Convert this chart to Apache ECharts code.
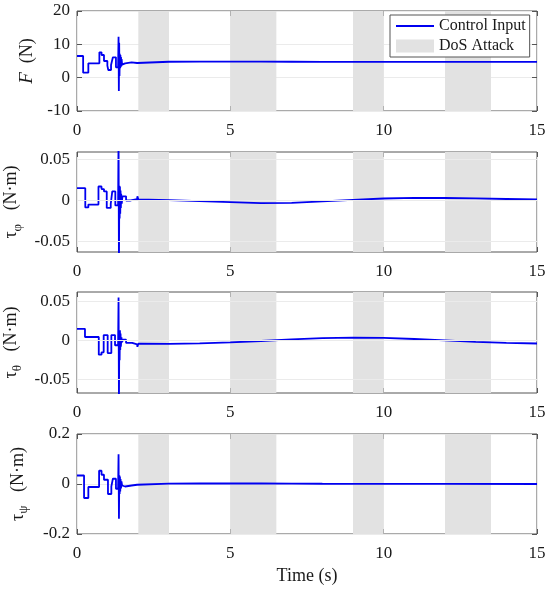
<!DOCTYPE html>
<html>
<head>
<meta charset="UTF-8">
<script src="https://cdn.jsdelivr.net/npm/echarts@6.0.0/dist/echarts.min.js"></script>
</head>
<body style="margin:0">
<div id="container" style="width:550px;height:590px;"></div>
<script>
// time ticks and DoS attack windows (s)
var timeTicks = [0, 5, 10, 15];
var dosStart = [2, 5, 9, 12];
var dosEnd = [3, 6.5, 10, 13.5];

// control input samples [t, value]
var forceData = [[0,6.5],[0.2,6.5],[0.2,1.5],[0.37,1.5],[0.37,4.3],[0.73,4.3],[0.73,7.6],[0.8,7.6],[0.8,6.8],[0.88,6.8],
  [0.88,5.0],[0.99,5.0],[0.99,3.6],[1.02,3.6],[1.02,2.3],[1.11,2.3],[1.11,3.8],[1.17,3.8],[1.17,6.1],[1.27,6.1],
  [1.27,3.1],[1.34,3.1],[1.355,12.3],[1.365,-4.0],[1.375,10.5],[1.385,0.5],[1.395,7.2],[1.405,2.8],[1.415,6.8],[1.425,3.1],
  [1.435,6.2],[1.445,3.4],[1.455,5.6],[1.47,3.9],[1.5,4.3],[1.57,4.3],[1.57,4.6],[1.78,4.6],[1.78,4.4],[1.96,4.4],
  [1.97,5.0],[2.0,4.8],[3,4.78],[4,4.8],[5,4.82],[6,4.8],[7,4.78],[8,4.76],[9,4.75],[10,4.74],[12,4.74],[15,4.74]];
var phiData = [[0,0.015],[0.27,0.015],[0.27,-0.0085],[0.37,-0.0085],[0.37,-0.005],[0.7,-0.005],[0.7,0.017],[0.8,0.017],
  [0.8,0.0138],[0.88,0.0138],[0.88,0.011],[0.97,0.011],[0.97,-0.009],[1.1,-0.009],[1.1,-0.004],[1.15,-0.004],[1.15,0.011],
  [1.25,0.011],[1.25,-0.006],[1.34,-0.006],[1.355,0.08],[1.368,-0.08],[1.38,0.018],[1.39,-0.022],[1.4,0.017],[1.41,-0.016],
  [1.42,0.012],[1.43,-0.009],[1.44,0.008],[1.46,-0.004],[1.48,0.005],[1.6,0.005],[1.6,0.0],[1.75,0.0],[1.75,0.0017],
  [1.96,0.0017],[1.97,0.005],[2.0,0.0012],[3,0.0005],[4,-0.0008],[5,-0.002],[6,-0.0032],[7,-0.0028],[8,-0.0012],
  [9,0.0008],[10,0.0024],[11,0.0031],[12,0.003],[13,0.0025],[14,0.0018],[15,0.0012]];
var thetaData = [[0,0.015],[0.26,0.015],[0.26,0.0045],[0.71,0.0045],[0.71,-0.018],[0.8,-0.018],[0.8,-0.015],[0.87,-0.015],
  [0.87,0.007],[1.0,0.007],[1.0,-0.016],[1.12,-0.016],[1.12,0.007],[1.24,0.007],[1.24,-0.006],[1.34,-0.006],[1.355,0.055],
  [1.368,-0.08],[1.38,0.012],[1.39,-0.025],[1.4,0.013],[1.41,-0.012],[1.42,0.009],[1.43,-0.008],[1.45,0.004],[1.47,-0.002],
  [1.5,0.001],[1.6,0.001],[1.6,-0.003],[1.8,-0.003],[1.8,-0.005],[1.96,-0.005],[1.97,-0.008],[2.0,-0.004],[3,-0.0042],
  [4,-0.0036],[5,-0.0024],[6,-0.0006],[7,0.0014],[8,0.003],[9,0.0038],[10,0.0035],[11,0.002],[12,0.0002],[13,-0.0016],
  [14,-0.003],[15,-0.0038]];
var psiData = [[0,0.034],[0.23,0.034],[0.23,-0.056],[0.37,-0.056],[0.37,-0.012],[0.72,-0.012],[0.72,0.053],[0.8,0.053],
  [0.8,0.037],[0.88,0.037],[0.88,0.017],[1.01,0.017],[1.01,-0.04],[1.12,-0.04],[1.12,-0.01],[1.17,-0.01],[1.17,0.021],
  [1.27,0.021],[1.27,-0.019],[1.34,-0.019],[1.355,0.119],[1.368,-0.139],[1.38,0.035],[1.39,-0.04],[1.4,0.03],[1.41,-0.03],
  [1.42,0.02],[1.435,-0.018],[1.45,0.01],[1.47,-0.006],[1.5,-0.01],[1.57,-0.01],[1.57,-0.006],[1.78,-0.006],[1.78,-0.003],
  [1.96,-0.003],[1.97,0.004],[2.0,0.002],[3,0.0015],[4,0.002],[5,0.0025],[6,0.002],[7,0.0015],[8,0.001],[9,0.0008],
  [10,0.0005],[12,0.0002],[15,0]];

// y tick labels per panel
var forceTicks = [-10, 0, 10, 20];
var phiTicks = [-0.05, 0, 0.05];
var thetaTicks = [-0.05, 0, 0.05];
var psiTicks = [-0.2, 0, 0.2];

var font = 'Liberation Serif';
var ink = '#1a1a1a';
var boxGray = '#555555';
var gridGray = '#ebebeb';
var shade = '#e2e2e2';
var blue = '#0000f0';

var nameRich = {
    n: {fontFamily: font, fontSize: 18, lineHeight: 24, color: ink},
    i: {fontFamily: font, fontSize: 19, lineHeight: 24, fontStyle: 'italic', color: ink},
    s: {fontFamily: font, fontSize: 13, lineHeight: 13, verticalAlign: 'bottom', color: ink}
};

// interval is only given where min is a multiple of it; other panels use markLines for the grid
var panels = [
    {data: forceData, ticks: forceTicks, min: -10, max: 20, interval: 10, name: '{i|F}{n|\u2002(N)}', gap: 33, top: 11, height: 100},
    {data: phiData, ticks: phiTicks, min: -0.0626, max: 0.0589, name: '{n|τ}{s|φ}{n|\u2002 (N·m)}', gap: 44, top: 152, height: 100},
    {data: thetaData, ticks: thetaTicks, min: -0.067, max: 0.062, name: '{n|τ}{s|θ}{n|\u2002 (N·m)}', gap: 43, top: 292, height: 101},
    {data: psiData, ticks: psiTicks, min: -0.2, max: 0.2, interval: 0.2, name: '{n|τ}{s|ψ}{n|\u2002 (N·m)}', gap: 47, top: 434, height: 100}
];

var grids = [], xAxes = [], yAxes = [], series = [];
var dosAreas = dosStart.map(function (s, k) { return [{xAxis: s}, {xAxis: dosEnd[k]}]; });

function makeY(p, i, right) {
    var native = p.interval != null;
    var y = {
        gridIndex: i, type: 'value', min: p.min, max: p.max, position: right ? 'right' : 'left',
        axisLine: {show: false, onZero: false},
        axisTick: {inside: true, length: 5, lineStyle: {color: boxGray}},
        axisLabel: {show: !right, margin: 7, fontFamily: font, fontSize: 17, color: ink},
        splitLine: {show: native && !right, lineStyle: {color: gridGray, width: 1}}
    };
    if (native) {
        y.interval = p.interval;
    } else {
        y.axisTick.customValues = p.ticks;
        y.axisLabel.customValues = p.ticks;
    }
    if (!right) {
        y.name = p.name;
        y.nameLocation = 'middle';
        y.nameGap = p.gap;
        y.nameTextStyle = {rich: nameRich};
    }
    return y;
}

panels.forEach(function (p, i) {
    grids.push({
        left: 77, top: p.top, width: 460, height: p.height,
        outerBoundsMode: 'none', containLabel: false,
        show: true, borderColor: boxGray, borderWidth: 1, backgroundColor: 'transparent'
    });
    xAxes.push({
        gridIndex: i, type: 'value', min: timeTicks[0], max: timeTicks[timeTicks.length - 1], interval: 5,
        axisLine: {show: false, onZero: false},
        axisTick: {inside: true, length: 5, lineStyle: {color: boxGray}},
        axisLabel: {margin: 11, fontFamily: font, fontSize: 17, color: ink},
        splitLine: {show: true, lineStyle: {color: gridGray, width: 1}},
        name: i === 3 ? 'Time (s)' : '', nameLocation: 'middle', nameGap: 33,
        nameTextStyle: {fontFamily: font, fontSize: 18, color: ink}
    });
    xAxes.push({
        gridIndex: i, type: 'value', position: 'top', min: timeTicks[0], max: timeTicks[timeTicks.length - 1], interval: 5,
        axisLine: {show: false, onZero: false},
        axisTick: {inside: true, length: 5, lineStyle: {color: boxGray}},
        axisLabel: {show: false}, splitLine: {show: false}
    });
    yAxes.push(makeY(p, i, false));
    yAxes.push(makeY(p, i, true));

    if (p.interval == null) {
        // horizontal grid lines at the y ticks
        series.push({
            type: 'line', xAxisIndex: 2 * i, yAxisIndex: 2 * i, data: [], z: 1, silent: true,
            markLine: {
                silent: true, symbol: ['none', 'none'], label: {show: false}, animation: false,
                lineStyle: {color: gridGray, width: 1, type: 'solid'},
                data: p.ticks.map(function (v) { return {yAxis: v}; })
            }
        });
    }
    series.push({
        name: 'DoS Attack', type: 'line', xAxisIndex: 2 * i, yAxisIndex: 2 * i, data: [], z: 2, silent: true,
        itemStyle: {color: shade}, lineStyle: {color: shade},
        markArea: {silent: true, itemStyle: {color: shade}, data: dosAreas}
    });
    series.push({
        name: 'Control Input', type: 'line', xAxisIndex: 2 * i, yAxisIndex: 2 * i, data: p.data, z: 3,
        symbol: 'none', lineStyle: {color: blue, width: 1.8}, itemStyle: {color: blue},
        emphasis: {disabled: true}
    });
});

var myChart = echarts.init(document.getElementById('container'));
myChart.setOption({
    animation: false,
    backgroundColor: '#ffffff',
    grid: grids,
    xAxis: xAxes,
    yAxis: yAxes,
    legend: {
        data: [
            {name: 'Control Input', itemStyle: {opacity: 0}},
            {name: 'DoS Attack', icon: 'rect'}
        ],
        orient: 'vertical', left: 390, top: 15, z: 20, zlevel: 1,
        itemWidth: 38, itemHeight: 13, itemGap: 4,
        padding: [3, 4, 3, 5],
        backgroundColor: '#ffffff', borderColor: boxGray, borderWidth: 1,
        textStyle: {fontFamily: font, fontSize: 16, color: ink},
        selectedMode: false
    },
    series: series
});
window.onresize = function () {
    myChart.resize();
};
</script>
</body>
</html>
